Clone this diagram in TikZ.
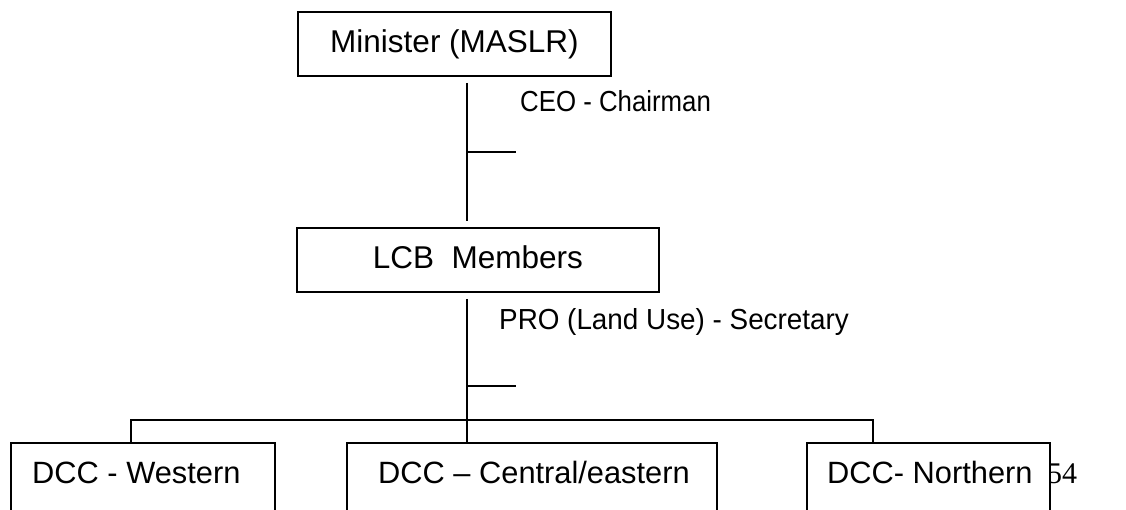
\documentclass[tikz,border=0pt]{standalone}
\usepackage{fontspec}
\setmainfont{Liberation Sans}
\newfontfamily\narrowsans[FakeStretch=0.89]{Liberation Sans}
\newfontfamily\midsans[FakeStretch=0.96]{Liberation Sans}
\newfontfamily\pageserif{Liberation Serif}
\begin{document}
\begin{tikzpicture}[x=1pt,y=-1pt,
  box/.style={draw, line width=2pt, fill=white, inner sep=0pt,
    minimum height=64pt, font=\fontsize{31.5}{36}\selectfont,
    text height=17pt, text depth=0pt},
  openbox/.style={draw, line width=2pt, fill=white, inner sep=0pt,
    minimum height=90pt},
  boxtext/.style={anchor=base west, inner sep=0pt, font=\fontsize{30.8}{36}\selectfont},
  role/.style={anchor=base west, inner sep=0pt, font=\narrowsans\fontsize{29}{34}\selectfont},
  trunk/.style={line width=2pt},
  tick/.style={line width=1.3pt}]
\useasboundingbox (0,0) rectangle (1126,510);
\clip (0,0) rectangle (1126,510);

% top levels
\node[box, minimum width=313pt] (min) at (454.5,44) {Minister (MASLR)};
\node[box, minimum width=362pt] (lcb) at (478,260) {LCB\ \ Members};

% page number (partly hidden by the box drawn over it)
\node[anchor=base west, inner sep=0pt, font=\pageserif\fontsize{30}{36}\selectfont] (pg) at (1047,483) {54};

% bottom boxes (cut off by the page edge)
\node[openbox, minimum width=264pt] (wes) at (143,488) {};
\node[openbox, minimum width=370pt] (cen) at (532,488) {};
\node[openbox, minimum width=243pt] (nor) at (928.5,488) {};
\node[boxtext] (west) at (32,483) {DCC - Western};
\node[boxtext] (cent) at (378,483) {DCC -- Central/eastern};
\node[boxtext] (nort) at (827,483) {DCC- Northern};

% role labels
\node[role] (ceo) at (520,112) {CEO - Chairman};
\node[role, font=\midsans\fontsize{29}{34}\selectfont] (pro) at (499,329) {PRO (Land Use) - Secretary};

% connectors
\coordinate (v1a) at (467,83);
\coordinate (v1b) at (467,221);
\coordinate (t1) at (516,152);
\coordinate (v2a) at (467,299);
\coordinate (t2) at (516,386);
\coordinate (hl) at (131,420);
\coordinate (hr) at (873,420);

\draw[trunk] (v1a) -- (v1b);
\draw[tick] (v1a |- t1) -- (t1);
\draw[trunk] (v2a) -- (v2a |- cen.north);
\draw[tick] (v2a |- t2) -- (t2);
\draw[trunk] (hl |- wes.north) -- (hl) -- (hr) -- (hr |- nor.north);
\end{tikzpicture}
\end{document}
